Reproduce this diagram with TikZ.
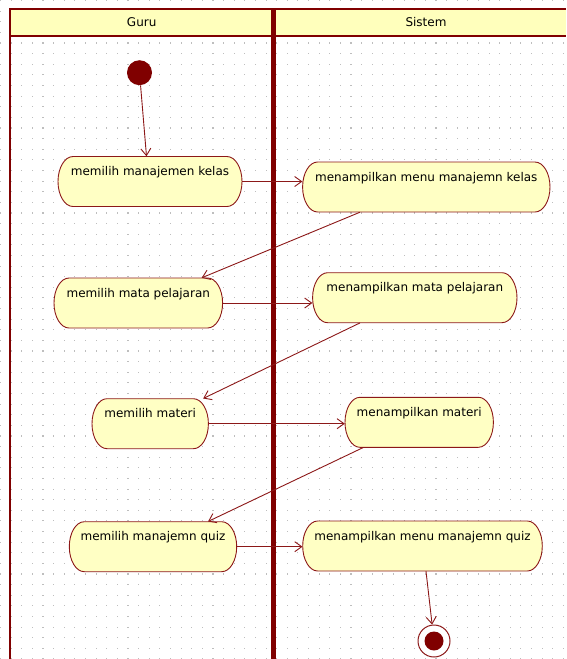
\documentclass[tikz,border=0pt]{standalone}
\usepackage{fontspec}
\setmainfont{DejaVu Sans}
\usetikzlibrary{arrows.meta,calc}

\definecolor{lanered}{RGB}{128,0,0}
\definecolor{edgered}{RGB}{140,24,24}
\definecolor{actfill}{RGB}{255,255,196}
\definecolor{hdrfill}{RGB}{255,255,188}
\definecolor{gridgray}{RGB}{190,190,190}

\tikzset{
  lane/.style={draw=lanered, line width=2pt},
  divider/.style={draw=lanered, line width=5pt},
  actshape/.style={fill=actfill, draw=edgered, line width=0.9pt},
  act/.style={inner sep=0pt, minimum height=50pt, text height=9pt, text depth=21pt,
              font=\fontsize{12}{14}\selectfont},
  lanetitle/.style={font=\fontsize{12}{14}\selectfont, inner sep=0pt},
  flow/.style={draw=edgered, line width=0.9pt, -{Straight Barb[length=7pt,width=10pt,line width=0.9pt]}},
  startstate/.style={circle, fill=lanered, inner sep=0pt, minimum size=25pt},
  endstate/.style={circle, draw=edgered, fill=white, line width=1pt, inner sep=0pt, minimum size=32pt},
}

% activity: name, centre x, centre y, half width, label
\newcommand{\activity}[5]{%
  \path[actshape] ({#2-#4+15},{#3+25}) -- ({#2+#4-15},{#3+25})
    arc[start angle=90, end angle=-90, x radius=15, y radius=25]
    -- ({#2-#4+15},{#3-25})
    arc[start angle=270, end angle=90, x radius=15, y radius=25] -- cycle;
  \node[act, minimum width={2*#4}] (#1) at (#2,#3) {#5};
}

\begin{document}
\begin{tikzpicture}[x=1pt, y=1pt]
\useasboundingbox (0,0) rectangle (566,-659);
\fill[white] (0,0) rectangle (566,-659);

% dotted background grid
\foreach \i in {0,...,53}
  \foreach \j in {0,...,62}
    \fill[gridgray] ({\i*10.62},{-\j*10.62}) rectangle ++(1.1,-1.1);

% swimlane headers
\fill[hdrfill] (10,-9) rectangle (566,-35.5);
\draw[lane] (10,-9) -- (566,-9);
\draw[lane] (10,-35.5) -- (566,-35.5);
\draw[lane] (10.3,-8) -- (10.3,-659);
\draw[divider] (273.3,-8) -- (273.3,-659);
\node[lanetitle] (guru) at (141.7,-22) {Guru};
\node[lanetitle] (sistem) at (426,-22) {Sistem};

% start and end states
\node[startstate] (init) at (139.5,-72.7) {};
\node[endstate] (final) at (434,-641) {};
\fill[lanered] (final.center) circle (9.5);

% activities
\activity{n1}{150}{-181.5}{92}{memilih manajemen kelas}
\activity{n2}{426.3}{-187}{123.7}{menampilkan menu manajemn kelas}
\activity{n3}{138.3}{-303}{84.3}{memilih mata pelajaran}
\activity{n4}{414.8}{-297.7}{102.2}{menampilkan mata pelajaran}
\activity{n5}{150.2}{-423.7}{58.2}{memilih materi}
\activity{n6}{419.2}{-422.3}{74.2}{menampilkan materi}
\activity{n7}{153}{-546.7}{83.7}{memilih manajemn quiz}
\activity{n8}{422.5}{-546}{119.8}{menampilkan menu manajemn quiz}

% control flow
\draw[flow] (init) -- ([xshift=-3.5pt]n1.north);
\draw[flow] (n1.east) -- (n1.east -| n2.west);
\draw[flow] ([xshift=-66.3pt]n2.south) -- ([xshift=63.4pt]n3.north);
\draw[flow] (n3.east) -- (n3.east -| n4.west);
\draw[flow] ([xshift=-54.8pt]n4.south) -- ([xshift=53pt]n5.north);
\draw[flow] (n5.east) -- (n5.east -| n6.west);
\draw[flow] ([xshift=-55.9pt]n6.south) -- ([xshift=55pt]n7.north);
\draw[flow] (n7.east) -- (n7.east -| n8.west);
\draw[flow] ([xshift=3.5pt]n8.south) -- (final);
\end{tikzpicture}
\end{document}
